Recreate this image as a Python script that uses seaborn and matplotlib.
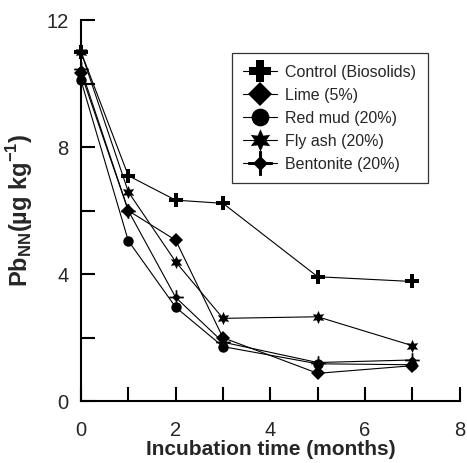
import numpy as np
import pandas as pd
import matplotlib
matplotlib.use("Agg")
import matplotlib.pyplot as plt
from matplotlib.path import Path
from matplotlib.ticker import MultipleLocator
import seaborn as sns

# Incubation time (months) and Pb_NN concentrations per amendment
months = [0, 1, 2, 3, 5, 7]
control = [11.0, 7.1, 6.33, 6.23, 3.92, 3.77]
lime = [10.33, 6.0, 5.07, 2.0, 0.88, 1.12]
red_mud = [10.1, 5.05, 2.96, 1.72, 1.18, 1.15]
fly_ash = [11.0, 6.59, 4.39, 2.61, 2.66, 1.75]
bentonite = [10.45, 6.0, 3.27, 1.86, 1.22, 1.3]

labels = ["Control (Biosolids)", "Lime (5%)", "Red mud (20%)",
          "Fly ash (20%)", "Bentonite (20%)"]
series = [control, lime, red_mud, fly_ash, bentonite]

sns.set_style("ticks")
plt.rcParams["font.family"] = ["Liberation Sans", "DejaVu Sans"]
plt.rcParams["mathtext.fontset"] = "custom"
plt.rcParams["mathtext.rm"] = "Liberation Sans"
plt.rcParams["mathtext.bf"] = "Liberation Sans:bold"


def cross_diamond(d=0.6, w=0.12):
    """Thin four-armed cross with a filled diamond at its centre."""
    e = d - w
    verts = [(-w, 1), (w, 1), (w, e), (e, w), (1, w), (1, -w), (e, -w),
             (w, -e), (w, -1), (-w, -1), (-w, -e), (-e, -w), (-1, -w),
             (-1, w), (-e, w), (-w, e), (-w, 1)]
    codes = [Path.MOVETO] + [Path.LINETO] * (len(verts) - 2) + [Path.CLOSEPOLY]
    return Path(verts, codes)


styles = [
    dict(marker="P", markersize=9.5),
    dict(marker="D", markersize=7.0),
    dict(marker="o", markersize=7.5),
    dict(marker=(6, 1, 0), markersize=9.5),
    dict(marker=cross_diamond(), markersize=10.5),
]

fig = plt.figure(figsize=(4.67, 4.63), dpi=100)
ax = fig.add_axes([0.1734, 0.1333, 0.9844 - 0.1734, 0.9568 - 0.1333])

for lab, vals, st in zip(labels, series, styles):
    df = pd.DataFrame({"month": months, "pb": vals})
    sns.lineplot(data=df, x="month", y="pb", ax=ax, color="black",
                 linewidth=0.8, label=lab, markeredgecolor="black",
                 markeredgewidth=0.0, markerfacecolor="black",
                 clip_on=False, zorder=3, **st)

ax.set_xlim(0, 8)
ax.set_ylim(0, 12)
ax.xaxis.set_major_locator(MultipleLocator(2))
ax.xaxis.set_minor_locator(MultipleLocator(1))
ax.yaxis.set_major_locator(MultipleLocator(4))
ax.yaxis.set_minor_locator(MultipleLocator(2))
ax.tick_params(which="both", direction="in", length=10, width=1.5,
               color="black")
ax.tick_params(axis="x", which="major", labelsize=14.5, pad=14)
ax.tick_params(axis="y", which="major", labelsize=14.5, pad=9)

for side in ("top", "right"):
    ax.spines[side].set_visible(False)
for side in ("left", "bottom"):
    ax.spines[side].set_linewidth(1.5)
    ax.spines[side].set_color("black")

ax.set_xlabel("Incubation time (months)", fontsize=15, fontweight="bold",
              labelpad=0.5)
ax.set_ylabel(r"Pb$_\mathbf{NN}$(µg kg$^\mathbf{-1}$)", fontsize=17,
              fontweight="bold", labelpad=8)

leg = ax.legend(loc="upper right", bbox_to_anchor=(0.916, 0.913),
                borderaxespad=0, frameon=True, fancybox=False,
                edgecolor="black", fontsize=11.5, markerscale=1.7,
                handlelength=2.1, labelspacing=0.5, handletextpad=0.55,
                borderpad=0.72)
leg.get_frame().set_linewidth(0.9)

fig.savefig("out.png", dpi=100)
